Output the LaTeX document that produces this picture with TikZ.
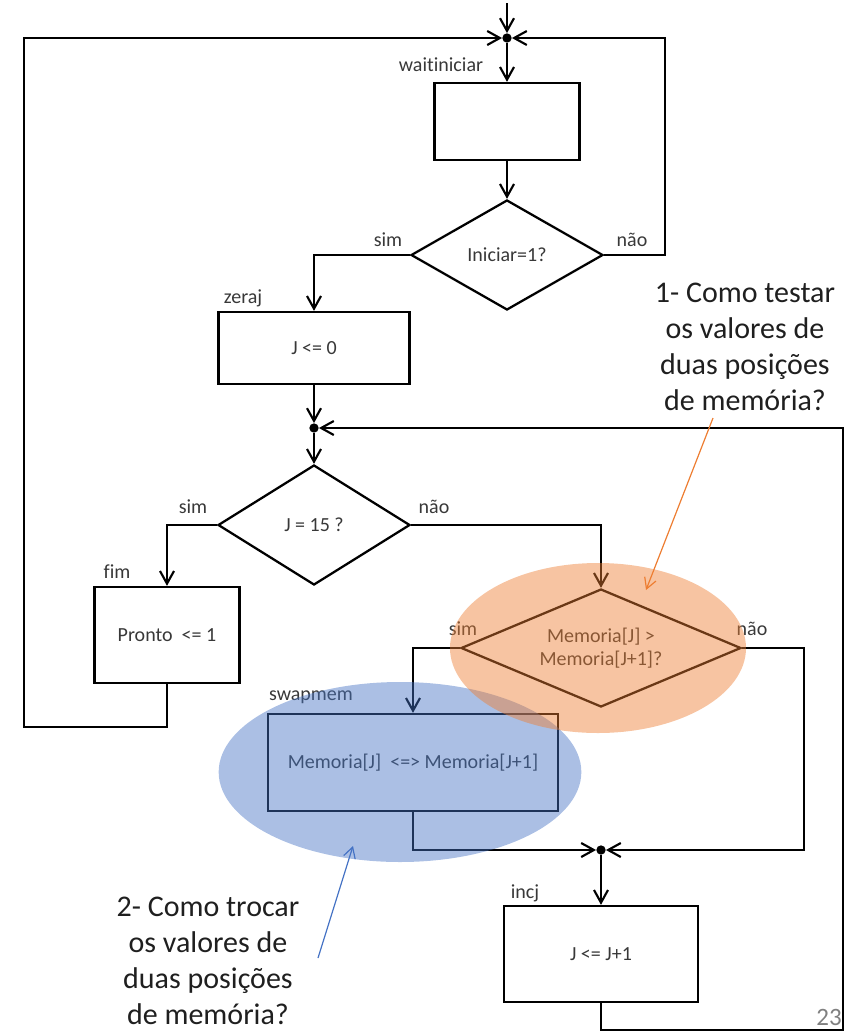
\documentclass[tikz,border=0pt]{standalone}
\usepackage{fontspec}
\setmainfont{Carlito}[Ligatures={NoCommon}]
\usetikzlibrary{arrows.meta,shapes.geometric}
\definecolor{accOrange}{HTML}{ED7D31}
\definecolor{accBlue}{HTML}{4472C4}
\definecolor{txt}{HTML}{383838}
\begin{document}
\begin{tikzpicture}[x=0.75pt,y=-0.75pt,
  flow/.style={line width=1.6pt, draw=black},
  arr/.style={flow, -{Straight Barb[length=9.5pt,width=10.5pt]}},
  stepbox/.style={draw, line width=1.7pt, rectangle, inner sep=0pt,
    font=\fontsize{15pt}{18pt}\selectfont, text=txt},
  decision/.style={draw, line width=1.7pt, diamond, shape aspect=2.4, inner sep=0pt,
    align=center, font=\fontsize{15pt}{17pt}\selectfont, text=txt},
  junction/.style={circle, fill=black, inner sep=0pt, minimum size=7pt},
  lbl/.style={font=\fontsize{15pt}{18pt}\selectfont, text=txt},
  question/.style={font=\fontsize{22.5pt}{27pt}\selectfont, align=center, text=black!88},
  note/.style={line width=0.9pt, -{Straight Barb[length=8pt,width=9pt]}},
]
\useasboundingbox (0,0) rectangle (857,1032);

% flowchart states and decisions
\coordinate (entry) at (507,3);
\node[junction] (j1) at (507,38) {};
\node[stepbox, minimum width=108.75pt, minimum height=57.75pt] (wait) at (507,121.5) {};
\node[decision, minimum width=144pt, minimum height=82.5pt] (dIni) at (507,255) {Iniciar=1?};
\node[stepbox, minimum width=143.25pt, minimum height=54pt] (zeraj) at (314,348) {J <= 0};
\node[junction] (j2) at (314,428) {};
\node[decision, minimum width=144pt, minimum height=90pt] (dJ) at (314,525) {J = 15 ?};
\node[stepbox, minimum width=108.75pt, minimum height=72pt] (fim) at (167,635) {Pronto\ \ <= 1};
\node[decision, minimum width=210pt, minimum height=88.5pt] (dMem) at (601,648) {Memoria[J] >\\Memoria[J+1]?};
\node[stepbox, minimum width=217.5pt, minimum height=72.75pt] (swap) at (413,762.5) {Memoria[J]\ \ <=> Memoria[J+1]};
\node[junction] (j3) at (601,850) {};
\node[stepbox, minimum width=145.5pt, minimum height=72pt] (incj) at (601,954) {J <= J+1};

% state names and branch labels
\node[lbl] (tWait) at (441,65) {waitiniciar};
\node[lbl] (tSim1) at (388,240) {sim};
\node[lbl] (tNao1) at (632,240) {não};
\node[lbl] (tZeraj) at (243,298) {zeraj};
\node[lbl] (tSim2) at (193,507) {sim};
\node[lbl] (tNao2) at (434,507) {não};
\node[lbl] (tFim) at (117,572) {fim};
\node[lbl] (tSim3) at (463,629) {sim};
\node[lbl] (tNao3) at (752,629) {não};
\node[lbl] (tSwap) at (311,697) {swapmem};
\node[lbl] (tIncj) at (525,893) {incj};

% connectors
\coordinate (rTop) at (665,38);
\coordinate (lBot) at (24,727);
\coordinate (rMid) at (804,850);
\coordinate (rBot) at (843,1030);
\draw[arr] (entry) -- (j1);
\draw[arr] (j1) -- (wait);
\draw[arr] (wait) -- (dIni);
\draw[arr] (dIni.west) -| (zeraj.north);
\draw[arr] (dIni.east) -| (rTop) -- (j1);
\draw[arr] (zeraj) -- (j2);
\draw[arr] (j2) -- (dJ);
\draw[arr] (dJ.west) -| (fim.north);
\draw[arr] (dJ.east) -| (dMem.north);
\draw[arr] (fim.south) |- (lBot) |- (j1);
\draw[arr] (dMem.west) -| (swap.north);
\draw[arr] (dMem.east) -| (rMid) -- (j3);
\draw[arr] (swap.south) |- (j3);
\draw[arr] (j3) -- (incj);
\draw[arr] (incj.south) |- (rBot) |- (j2);

% highlighted regions
\fill[accBlue, fill opacity=0.45] (400,772) ellipse [x radius=136pt, y radius=67.5pt];
\fill[accOrange, fill opacity=0.45] (598,648) ellipse [x radius=111pt, y radius=63.75pt];

% questions
\node[question] (q1) at (745,347) {1- Como testar\\os valores de\\duas posições\\de memória?};
\coordinate (q1from) at (713,418);
\coordinate (q1to) at (646,590);
\draw[note, accOrange] (q1from) -- (q1to);
\node[question] (q2) at (208,961) {2- Como trocar\\os valores de\\duas posições\\de memória?};
\coordinate (q2from) at (318,958);
\coordinate (q2to) at (353,846);
\draw[note, accBlue] (q2from) -- (q2to);

\node[font=\fontsize{18.75pt}{20pt}\selectfont, text=black!50] (pg) at (829,1017) {23};
\end{tikzpicture}
\end{document}
